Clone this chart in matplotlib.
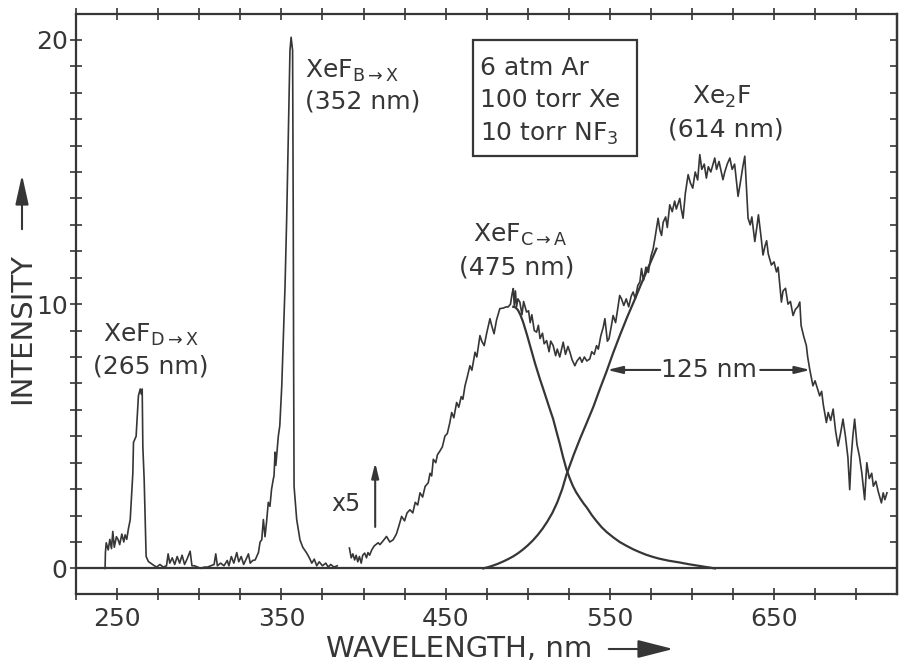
# XeF / Xe2F emission spectrum, 6 atm Ar + 100 torr Xe + 10 torr NF3
import matplotlib
matplotlib.use("Agg")
import matplotlib.pyplot as plt
from matplotlib.ticker import FixedLocator, MultipleLocator
from matplotlib.patches import Rectangle, FancyArrowPatch

plt.rcParams['font.family'] = ['DejaVu Sans']
plt.rcParams['mathtext.fontset'] = 'dejavusans'
plt.rcParams['mathtext.default'] = 'regular'

INK = '#363636'

# UV part of the trace (D->X and B->X bands)
uv_nm = [242.6, 242.8, 243.3, 244.5, 245.5, 246.5, 247.3, 248.2, 249.5, 250.6,
         251.5, 252.8, 254.0, 254.8, 255.8, 256.8, 257.9, 259.5, 259.9, 261.5,
         262.9, 264.0, 264.6, 265.2, 265.6, 266.4, 267.6, 269.0, 271.9, 274.0,
         276.0, 278.0, 280.0, 281.0, 282.0, 283.5, 285.0, 286.5, 288.0, 289.5,
         291.0, 292.5, 294.4, 295.5, 297.0, 299.0, 301.0, 303.0, 305.0, 307.0,
         309.0, 310.0, 311.0, 313.0, 315.0, 317.0, 318.0, 319.5, 321.0, 322.8,
         324.0, 325.5, 327.0, 328.5, 329.9, 331.0, 332.5, 334.0, 336.0, 337.0,
         338.0, 339.0, 340.0, 341.0, 342.0, 343.0, 344.0, 345.1, 345.5, 346.1,
         346.6, 348.1, 349.0, 350.2, 351.2, 352.2, 353.2, 354.2, 355.2, 355.9,
         356.8, 357.2, 357.4, 357.7, 359.3, 361.3, 363.0, 365.4, 367.0, 368.5,
         370.0, 371.5, 373.0, 375.0, 377.0, 378.5, 380.0, 382.0, 384.0]
uv_int = [0.0, 0.6, 0.97, 0.7, 1.1, 0.75, 1.4, 0.8, 1.2, 1.08,
          0.9, 1.3, 1.0, 1.27, 1.1, 1.5, 1.84, 3.6, 4.77, 5.0,
          6.53, 6.79, 6.6, 6.79, 4.6, 3.37, 0.45, 0.26, 0.13, 0.05,
          0.15, 0.05, 0.1, 0.55, 0.2, 0.4, 0.15, 0.45, 0.2, 0.5,
          0.15, 0.35, 0.65, 0.1, 0.1, 0.05, 0.0, 0.05, 0.05, 0.1,
          0.15, 0.55, 0.1, 0.2, 0.1, 0.3, 0.1, 0.45, 0.2, 0.6,
          0.25, 0.45, 0.15, 0.35, 0.55, 0.2, 0.3, 0.32, 0.6, 1.0,
          1.08, 1.85, 1.2, 1.8, 2.5, 2.35, 3.0, 3.4, 3.5, 4.4,
          3.9, 5.0, 5.4, 6.9, 8.8, 10.7, 13.25, 16.4, 19.6, 20.1,
          19.6, 13.25, 8.2, 3.1, 1.85, 1.08, 0.8, 0.58, 0.4, 0.2,
          0.35, 0.1, 0.25, 0.1, 0.2, 0.05, 0.15, 0.05, 0.1]

# visible part of the trace, shown x5
vis_nm = [391.4, 392.5, 393.5, 394.6, 395.5, 396.5, 397.5, 398.6, 399.5, 400.7,
          401.8, 402.7, 403.7, 405.0, 406.5, 408.9, 410.0, 412.0, 414.0, 416.0,
          418.0, 420.0, 421.5, 423.2, 425.0, 426.5, 428.3, 430.0, 431.5, 433.0,
          434.4, 436.0, 437.5, 439.4, 440.5, 441.5, 442.5, 444.0, 445.0, 446.5,
          448.0, 449.6, 451.0, 452.5, 453.7, 455.0, 456.7, 458.0, 459.5, 460.5,
          461.8, 463.0, 464.8, 466.0, 467.9, 469.0, 470.9, 472.0, 473.5, 475.0,
          477.0, 478.0, 479.5, 481.0, 483.0, 485.0, 487.0, 488.0, 489.5, 490.5,
          491.2, 491.8, 492.5, 493.2, 494.0, 495.2, 496.5, 497.5, 499.3, 500.5,
          501.5, 502.5, 504.0, 505.4, 506.5, 507.5, 509.0, 510.0, 511.5, 513.0,
          514.0, 515.5, 517.0, 518.0, 519.5, 521.6, 523.0, 524.5, 525.7, 527.0,
          528.7, 530.0, 531.8, 533.0, 534.5, 536.0, 537.8, 539.0, 540.5, 541.9,
          543.0, 544.5, 546.0, 547.0, 548.5, 549.5, 551.0, 552.0, 553.5, 555.0,
          556.0, 557.1, 558.5, 560.0, 561.5, 563.0, 564.2, 565.5, 567.0, 568.3,
          569.3, 570.5, 572.0, 573.5, 575.0, 576.4, 577.5, 579.4, 580.5, 581.5,
          582.5, 584.0, 585.0, 586.5, 588.0, 589.5, 590.5, 592.6, 593.5, 594.6,
          596.0, 597.7, 599.0, 600.5, 602.0, 603.5, 604.8, 606.0, 607.5, 608.8,
          610.0, 611.5, 613.9, 615.0, 616.5, 618.9, 620.0, 621.5, 623.1, 624.5,
          626.0, 628.1, 629.5, 631.0, 632.2, 634.2, 635.5, 636.5, 638.3, 639.5,
          640.5, 642.0, 643.3, 644.5, 645.5, 646.5, 648.4, 650.0, 651.5, 652.5,
          654.5, 655.5, 657.0, 658.5, 660.0, 661.6, 663.0, 664.5, 665.7, 666.5,
          668.0, 669.7, 670.5, 671.7, 672.5, 673.7, 675.0, 676.5, 677.8, 679.0,
          680.0, 681.9, 683.0, 684.5, 686.0, 687.5, 689.0, 690.5, 692.0, 693.5,
          695.0, 696.1, 697.0, 698.0, 699.1, 700.5, 702.0, 703.5, 705.2, 706.5,
          708.0, 709.5, 710.5, 712.0, 713.5, 715.4, 716.5, 717.5, 718.8]
vis_int = [0.77, 0.4, 0.55, 0.32, 0.5, 0.25, 0.45, 0.2, 0.5, 0.58,
           0.4, 0.6, 0.5, 0.7, 0.85, 0.97, 0.9, 1.05, 1.21, 1.0,
           1.08, 1.3, 1.6, 1.97, 1.8, 2.1, 2.22, 2.1, 2.5, 2.4,
           2.86, 2.7, 3.1, 3.24, 3.6, 3.5, 4.13, 4.0, 4.3, 4.44,
           4.6, 5.01, 5.1, 5.5, 5.9, 5.7, 6.28, 6.1, 6.5, 6.4,
           6.91, 7.2, 7.67, 7.5, 8.18, 8.0, 8.81, 8.6, 8.43, 8.9,
           9.45, 9.2, 8.88, 9.4, 9.83, 9.85, 9.9, 9.89, 10.0, 10.4,
           10.59, 9.95, 10.5, 9.9, 10.2, 10.08, 9.6, 10.1, 9.7, 9.75,
           9.3, 9.6, 9.0, 8.94, 9.2, 8.7, 8.9, 8.5, 8.62, 8.2,
           8.6, 8.43, 8.05, 8.3, 8.0, 8.56, 8.1, 8.4, 8.18, 7.9,
           7.67, 7.85, 7.99, 7.8, 8.0, 7.85, 7.93, 8.2, 8.1, 8.43,
           8.3, 8.8, 9.13, 9.45, 8.6, 8.69, 9.2, 9.57, 9.3, 9.9,
           10.33, 10.2, 9.95, 10.2, 9.9, 10.3, 10.46, 10.2, 10.7, 10.84,
           11.35, 10.9, 11.4, 11.2, 11.8, 12.1, 12.5, 13.25, 12.8, 12.6,
           13.1, 13.3, 12.9, 13.76, 13.5, 13.9, 13.6, 14.0, 13.6, 13.25,
           14.2, 14.9, 14.6, 14.39, 15.0, 14.7, 15.66, 15.1, 15.3, 14.77,
           15.2, 15.0, 15.53, 15.1, 15.4, 14.71, 15.0, 15.3, 15.53, 15.1,
           15.3, 14.08, 14.6, 15.2, 15.6, 13.25, 13.0, 13.3, 12.37, 12.9,
           13.38, 12.6, 11.86, 12.2, 12.4, 11.9, 11.48, 11.6, 11.22, 11.4,
           10.08, 10.5, 10.6, 10.0, 10.1, 9.57, 9.8, 9.9, 10.08, 9.19,
           8.8, 8.43, 8.0, 7.55, 7.3, 6.91, 7.1, 6.8, 6.53, 6.7,
           6.2, 5.52, 5.9, 5.6, 6.03, 5.2, 4.63, 5.1, 5.65, 5.0,
           4.2, 2.98, 4.2, 5.0, 5.65, 4.7, 4.25, 3.6, 2.6, 4.0,
           3.4, 3.6, 3.11, 3.3, 2.9, 2.48, 2.86, 2.6, 2.86]

# fitted XeF(C->A) band, long-wavelength side
fit_ca_nm = [491.2, 492.5, 494.0, 495.5, 497.2, 499.5, 502.0, 504.5, 507.4, 509.5,
             511.5, 513.5, 515.5, 517.5, 519.5, 521.5, 523.6, 525.5, 527.5, 529.5,
             531.8, 534.0, 536.0, 539.0, 542.0, 545.0, 548.0, 552.0, 556.0, 560.0,
             564.0, 568.0, 572.0, 576.0, 580.0, 586.0, 592.0, 598.0, 604.0, 610.0,
             614.0]
fit_ca_int = [9.9, 9.88, 9.78, 9.6, 9.32, 8.85, 8.3, 7.75, 7.17, 6.78,
              6.4, 6.02, 5.65, 5.18, 4.72, 4.22, 3.75, 3.42, 3.12, 2.88,
              2.66, 2.46, 2.3, 2.02, 1.78, 1.56, 1.38, 1.18, 1.0, 0.86,
              0.73, 0.62, 0.52, 0.44, 0.37, 0.29, 0.23, 0.16, 0.1, 0.04,
              0.0]

# fitted Xe2F band, short-wavelength side
fit_xe2f_nm = [472.9, 476.0, 479.0, 482.0, 485.0, 488.0, 491.0, 494.0, 497.0, 500.0,
               503.0, 506.0, 509.0, 512.0, 515.0, 518.0, 521.0, 523.6, 528.0, 531.8,
               536.0, 540.0, 544.0, 548.0, 552.0, 556.0, 560.5, 565.0, 569.0, 573.5,
               578.4]
fit_xe2f_int = [0.0, 0.05, 0.11, 0.18, 0.26, 0.35, 0.45, 0.57, 0.71, 0.87,
                1.05, 1.26, 1.5, 1.78, 2.1, 2.5, 3.0, 3.55, 4.3, 4.9,
                5.52, 6.12, 6.8, 7.45, 8.15, 8.8, 9.5, 10.15, 10.75, 11.4,
                12.1]

x_major = [250, 350, 450, 550, 650]
x_labels = ['250', '350', '450', '550', '650']
y_major = [0, 10, 20]
y_labels = ['0', '10', '20']

fig = plt.figure(figsize=(9.05, 6.63), dpi=100)
ax = fig.add_axes([0.084, 0.104, 0.9068, 0.8749])

ax.axhline(0, color=INK, lw=1.6, zorder=1)
ax.plot(uv_nm, uv_int, color=INK, lw=1.2)
ax.plot(vis_nm, vis_int, color=INK, lw=1.2)
ax.plot(fit_ca_nm, fit_ca_int, color=INK, lw=1.6)
ax.plot(fit_xe2f_nm, fit_xe2f_int, color=INK, lw=1.6)

ax.set_xlim(224.9, 724.7)
ax.set_ylim(-0.97, 20.98)

ax.xaxis.set_major_locator(FixedLocator(x_major))
ax.set_xticklabels(x_labels)
ax.xaxis.set_minor_locator(MultipleLocator(25))
ax.yaxis.set_major_locator(FixedLocator(y_major))
ax.set_yticklabels(y_labels)
ax.yaxis.set_minor_locator(MultipleLocator(1))

for sp in ax.spines.values():
    sp.set_color(INK)
    sp.set_linewidth(1.6)

ax.tick_params(which='both', direction='inout', length=8, width=1.2,
               colors=INK, labelsize=18, top=True, right=False)
ax.tick_params(axis='x', which='both', pad=5)
ax.tick_params(axis='y', which='both', pad=2)

# right-hand frame ticks point inwards only
right = ax.secondary_yaxis('right')
right.yaxis.set_major_locator(MultipleLocator(1))
right.tick_params(direction='in', length=5, width=1.2, colors=INK, labelright=False)
right.spines['right'].set_color(INK)
right.spines['right'].set_linewidth(1.6)

# band labels
fs = 18
ax.text(241.4, 8.57, r'XeF$_{D\rightarrow X}$', fontsize=fs, color=INK, va='baseline')
ax.text(235.0, 7.36, '(265 nm)', fontsize=fs, color=INK, va='baseline')
ax.text(364.5, 18.56, r'XeF$_{B\rightarrow X}$', fontsize=fs, color=INK, va='baseline')
ax.text(364.5, 17.42, '(352 nm)', fontsize=fs, color=INK, va='baseline')
ax.text(466.8, 12.35, r'XeF$_{C\rightarrow A}$', fontsize=fs, color=INK, va='baseline')
ax.text(458.0, 11.14, '(475 nm)', fontsize=fs, color=INK, va='baseline')
ax.text(618.0, 17.6, r'Xe$_2$F', fontsize=fs, color=INK, va='baseline', ha='center')
ax.text(620.5, 16.33, '(614 nm)', fontsize=fs, color=INK, va='baseline', ha='center')

# gas mixture box
ax.add_patch(Rectangle((466.6, 15.6), 99.8, 4.4, fill=False, ec=INK, lw=1.6))
ax.text(471.1, 18.67, '6 atm Ar', fontsize=fs, color=INK, va='baseline')
ax.text(471.1, 17.46, '100 torr Xe', fontsize=fs, color=INK, va='baseline')
ax.text(471.1, 16.18, r'10 torr NF$_3$', fontsize=fs, color=INK, va='baseline')

# FWHM marker
arrow = dict(arrowstyle='-|>,head_length=0.9,head_width=0.22', color=INK, lw=1.5,
             shrinkA=0, shrinkB=0)
ax.text(610.5, 7.51, '125 nm', fontsize=fs, color=INK, ha='center', va='center')
ax.annotate('', xy=(548.4, 7.51), xytext=(580.7, 7.51), arrowprops=arrow)
ax.annotate('', xy=(672.1, 7.51), xytext=(641.6, 7.51), arrowprops=arrow)

# x5 gain marker
ax.text(389.4, 2.44, 'x5', fontsize=17, color=INK, ha='center', va='center')
ax.annotate('', xy=(407.1, 4.0), xytext=(407.1, 1.57), arrowprops=arrow)

# axis titles with arrows
fig.text(326 / 905, 1 - 649 / 663, 'WAVELENGTH, nm', fontsize=21, color=INK,
         ha='left', va='center')
fig.text(22 / 905, 1 - 328 / 663, 'INTENSITY', fontsize=21, color=INK,
         ha='center', va='center', rotation=90)
fig.add_artist(FancyArrowPatch((606 / 905, 1 - 649 / 663), (676 / 905, 1 - 649 / 663),
                               transform=fig.transFigure, mutation_scale=20, color=INK, lw=1.5,
                               arrowstyle='-|>,head_length=1.1,head_width=0.28'))
fig.add_artist(FancyArrowPatch((22 / 905, 1 - 232 / 663), (22 / 905, 1 - 172 / 663),
                               transform=fig.transFigure, mutation_scale=20, color=INK, lw=1.5,
                               arrowstyle='-|>,head_length=0.9,head_width=0.2'))

fig.savefig('out.png', dpi=100, facecolor='white')
